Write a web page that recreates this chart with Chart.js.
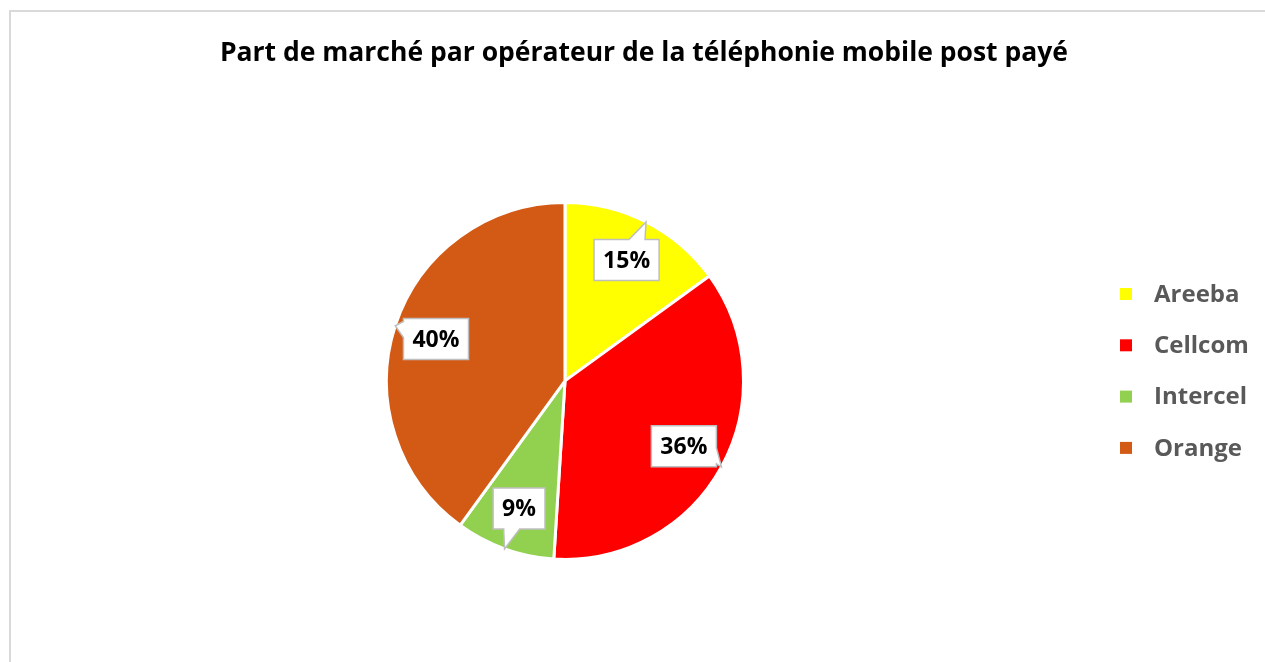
<!DOCTYPE html>
<html>
<head>
<meta charset="utf-8">
<script src="https://cdn.jsdelivr.net/npm/chart.js@4.4.1/dist/chart.umd.min.js"></script>
<style>
  html, body { margin: 0; padding: 0; background: #fff; overflow: hidden; }
</style>
</head>
<body>
<canvas id="pieChart" width="1265" height="662"></canvas>
<script>
const chartTitle = 'Part de marché par opérateur de la téléphonie mobile post payé';
const operators = ['Areeba', 'Cellcom', 'Intercel', 'Orange'];
const marketShare = [15, 36, 9, 40];
const sliceColors = ['#FFFF00', '#FF0000', '#92D050', '#D35A15'];

const fontFamily = "'Open Sans', 'Liberation Sans', sans-serif";
const legendText = '#595959';
const frameColor = '#D9D9D9';
const calloutBorder = '#BFBFBF';

// light frame round the chart, like the office chart object
const framePlugin = {
    id: 'frame',
    beforeDraw(chart) {
        const ctx = chart.ctx;
        ctx.save();
        ctx.fillStyle = '#fff';
        ctx.fillRect(0, 0, chart.width, chart.height);
        ctx.strokeStyle = frameColor;
        ctx.lineWidth = 2;
        ctx.strokeRect(10, 11, chart.width + 20, chart.height + 20);
        ctx.restore();
    }
};

// legend on the right, one row per slice
const sideLegendPlugin = {
    id: 'sideLegend',
    afterDraw(chart) {
        const ctx = chart.ctx;
        const colors = chart.data.datasets[0].backgroundColor;
        ctx.save();
        ctx.font = 'bold 24px ' + fontFamily;
        ctx.textBaseline = 'middle';
        ctx.textAlign = 'left';
        chart.data.labels.forEach((label, i) => {
            const y = 294 + i * 51.3;
            ctx.fillStyle = colors[i];
            ctx.fillRect(1120, y - 6, 12, 12);
            ctx.fillStyle = legendText;
            ctx.fillText(label, 1154, y + 1);
        });
        ctx.restore();
    }
};

function drawCallout(ctx, cx, cy, w, h, tipX, tipY) {
    const left = cx - w / 2, right = cx + w / 2;
    const top = cy - h / 2, bottom = cy + h / 2;
    const dx = tipX - cx, dy = tipY - cy;
    const half = 8;
    let side;
    if (Math.abs(dx) / (w / 2) > Math.abs(dy) / (h / 2)) {
        side = dx > 0 ? 'right' : 'left';
    } else {
        side = dy > 0 ? 'bottom' : 'top';
    }
    let b1, b2;
    if (side === 'top' || side === 'bottom') {
        const t = (h / 2) / Math.abs(dy);
        const px = cx + dx * t;
        b1 = Math.min(Math.max(px - half, left + 3), right - 3 - 2 * half);
        b2 = b1 + 2 * half;
    } else {
        const t = (w / 2) / Math.abs(dx);
        const py = cy + dy * t;
        b1 = Math.min(Math.max(py - half, top + 3), bottom - 3 - 2 * half);
        b2 = b1 + 2 * half;
    }
    ctx.beginPath();
    ctx.moveTo(left, top);
    if (side === 'top') { ctx.lineTo(b1, top); ctx.lineTo(tipX, tipY); ctx.lineTo(b2, top); }
    ctx.lineTo(right, top);
    if (side === 'right') { ctx.lineTo(right, b1); ctx.lineTo(tipX, tipY); ctx.lineTo(right, b2); }
    ctx.lineTo(right, bottom);
    if (side === 'bottom') { ctx.lineTo(b2, bottom); ctx.lineTo(tipX, tipY); ctx.lineTo(b1, bottom); }
    ctx.lineTo(left, bottom);
    if (side === 'left') { ctx.lineTo(left, b2); ctx.lineTo(tipX, tipY); ctx.lineTo(left, b1); }
    ctx.closePath();
    ctx.fillStyle = '#fff';
    ctx.fill();
    ctx.strokeStyle = calloutBorder;
    ctx.lineWidth = 1.5;
    ctx.stroke();
}

// percentage labels in callout boxes
const calloutPlugin = {
    id: 'callouts',
    afterDatasetsDraw(chart) {
        const ctx = chart.ctx;
        const values = chart.data.datasets[0].data;
        const total = values.reduce((a, b) => a + b, 0);
        const meta = chart.getDatasetMeta(0);
        ctx.save();
        ctx.font = 'bold 23px ' + fontFamily;
        ctx.textAlign = 'center';
        ctx.textBaseline = 'middle';
        meta.data.forEach((arc, i) => {
            const p = arc.getProps(['x', 'y', 'startAngle', 'endAngle', 'outerRadius'], true);
            const mid = (p.startAngle + p.endAngle) / 2;
            const r = p.outerRadius;
            const cx = p.x + Math.cos(mid) * r * 0.76;
            const cy = p.y + Math.sin(mid) * r * 0.76;
            const tipX = p.x + Math.cos(mid) * r * 1.0;
            const tipY = p.y + Math.sin(mid) * r * 1.0;
            const text = Math.round(values[i] / total * 100) + '%';
            const w = ctx.measureText(text).width + 18;
            drawCallout(ctx, cx, cy, w, 41, tipX, tipY);
            ctx.fillStyle = '#000';
            ctx.fillText(text, cx, cy + 1);
        });
        ctx.restore();
    }
};

new Chart(document.getElementById('pieChart').getContext('2d'), {
    type: 'pie',
    data: {
        labels: operators,
        datasets: [{
            data: marketShare,
            backgroundColor: sliceColors,
            borderColor: '#FFFFFF',
            borderWidth: 3,
            radius: 178.5
        }]
    },
    options: {
        responsive: false,
        animation: false,
        layout: { padding: { left: 62, right: 197, top: 0, bottom: 104 } },
        plugins: {
            legend: { display: false },
            tooltip: { enabled: false },
            title: {
                display: true,
                text: chartTitle,
                align: 'end',
                color: '#000',
                font: { family: fontFamily, size: 26.5, weight: 'bold' },
                padding: { top: 38, bottom: 134 }
            }
        }
    },
    plugins: [framePlugin, calloutPlugin, sideLegendPlugin]
});
</script>
</body>
</html>
